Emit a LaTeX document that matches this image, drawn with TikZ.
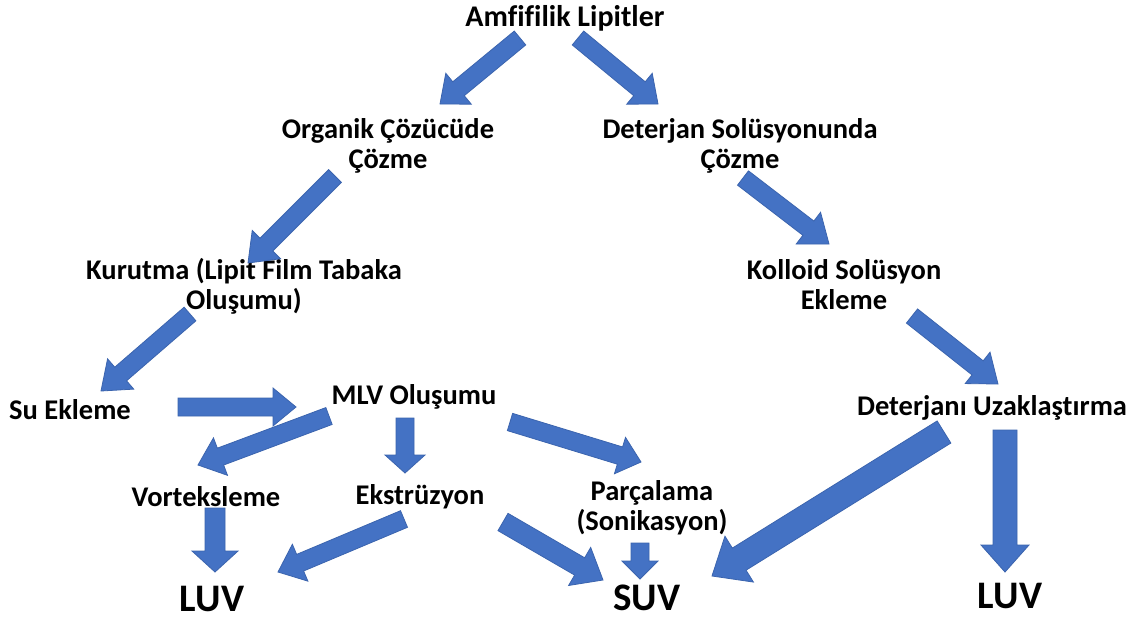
\documentclass[tikz,border=0pt]{standalone}
\usepackage{fontspec}
\setmainfont{Carlito}[Ligatures=CommonOff]
\usetikzlibrary{calc}
\definecolor{ablue}{HTML}{4472C4}
\definecolor{aedge}{HTML}{3B64AE}
\tikzset{
  lbl/.style={font=\bfseries\fontsize{28.5}{30}\selectfont, align=center, inner sep=0pt, text=black},
  big/.style={font=\bfseries\fontsize{39}{40}\selectfont, inner sep=0pt, text=black},
  barrow/.style={fill=ablue, draw=aedge, line width=0.8pt, line join=miter}
}
% #1 tail, #2 tip, #3 half shaft width, #4 half head width, #5 head length
\newcommand\myblockarrow[5]{%
  \path ($(#2)!#5!(#1)$) coordinate (hb);
  \draw[barrow] ($(#1)!#3!90:(#2)$) -- ($(hb)!#3!90:(#2)$) -- ($(hb)!#4!90:(#2)$) -- (#2)
    -- ($(hb)!#4!-90:(#2)$) -- ($(hb)!#3!-90:(#2)$) -- ($(#1)!#3!-90:(#2)$) -- cycle;}
\begin{document}
\begin{tikzpicture}[x=1pt,y=-1pt]
\fill[white] (0,0) rectangle (1132,619);
\useasboundingbox (0,0) rectangle (1132,619);
% nodes
\node[lbl, font=\bfseries\fontsize{30}{32}\selectfont] (amf) at (565,18) {Amfifilik Lipitler};
\node[lbl] (org) at (388,146) {Organik Çözücüde\\Çözme};
\node[lbl] (det) at (740,146) {Deterjan Solüsyonunda\\Çözme};
\node[lbl] (kur) at (244,286) {Kurutma (Lipit Film Tabaka\\Oluşumu)};
\node[lbl] (kol) at (844,285) {Kolloid Solüsyon\\Ekleme};
\node[lbl] (su) at (70,410) {Su Ekleme};
\node[lbl] (mlv) at (414,397) {MLV Oluşumu};
\node[lbl] (detu) at (992,408) {Deterjanı Uzaklaştırma};
\node[lbl] (vor) at (206,497) {Vorteksleme};
\node[lbl] (eks) at (420,497) {Ekstrüzyon};
\node[lbl] (par) at (652,508) {Parçalama\\(Sonikasyon)};
\node[big] (luva) at (212,599) {LUV};
\node[big] (suv) at (647,598) {SUV};
\node[big] (luvb) at (1010,596) {LUV};
% arrow end points
\coordinate (a1s) at (520,38);  \coordinate (a1e) at (440,104);
\coordinate (a2s) at (578,38);  \coordinate (a2e) at (658,104);
\coordinate (a3s) at (335,176); \coordinate (a3e) at (248,263);
\coordinate (a4s) at (743,178); \coordinate (a4e) at (829,244);
\coordinate (a5s) at (190,314); \coordinate (a5e) at (101,391);
\coordinate (a6s) at (912,316); \coordinate (a6e) at (998,384);
\coordinate (a7s) at (178,407); \coordinate (a7e) at (296,407);
\coordinate (a8s) at (329,416); \coordinate (a8e) at (198,465);
\coordinate (a9s) at (405,418); \coordinate (a9e) at (405,473);
\coordinate (a10s) at (510,422); \coordinate (a10e) at (641,462);
\coordinate (a11s) at (215,508); \coordinate (a11e) at (215,572);
\coordinate (a12s) at (404,519); \coordinate (a12e) at (278,572);
\coordinate (a13s) at (503,522); \coordinate (a13e) at (603,580);
\coordinate (a14s) at (640,543); \coordinate (a14e) at (640,579);
\coordinate (a15s) at (944,432); \coordinate (a15e) at (712,576);
\coordinate (a16s) at (1005,430); \coordinate (a16e) at (1005,572);
% arrows
\myblockarrow{a1s}{a1e}{9pt}{20pt}{24pt}
\myblockarrow{a2s}{a2e}{9pt}{20pt}{24pt}
\myblockarrow{a3s}{a3e}{9pt}{20pt}{26pt}
\myblockarrow{a4s}{a4e}{9pt}{20pt}{26pt}
\myblockarrow{a5s}{a5e}{9pt}{20pt}{26pt}
\myblockarrow{a6s}{a6e}{9pt}{20pt}{26pt}
\myblockarrow{a7s}{a7e}{9pt}{19pt}{23pt}
\myblockarrow{a8s}{a8e}{9pt}{20pt}{24pt}
\myblockarrow{a9s}{a9e}{9pt}{20pt}{18pt}
\myblockarrow{a10s}{a10e}{9pt}{19pt}{22pt}
\myblockarrow{a11s}{a11e}{10pt}{23pt}{21pt}
\myblockarrow{a12s}{a12e}{9pt}{20pt}{24pt}
\myblockarrow{a13s}{a13e}{10pt}{22pt}{27pt}
\myblockarrow{a14s}{a14e}{9pt}{18pt}{18pt}
\myblockarrow{a15s}{a15e}{13pt}{27pt}{32pt}
\myblockarrow{a16s}{a16e}{12pt}{24pt}{27pt}
\end{tikzpicture}
\end{document}
